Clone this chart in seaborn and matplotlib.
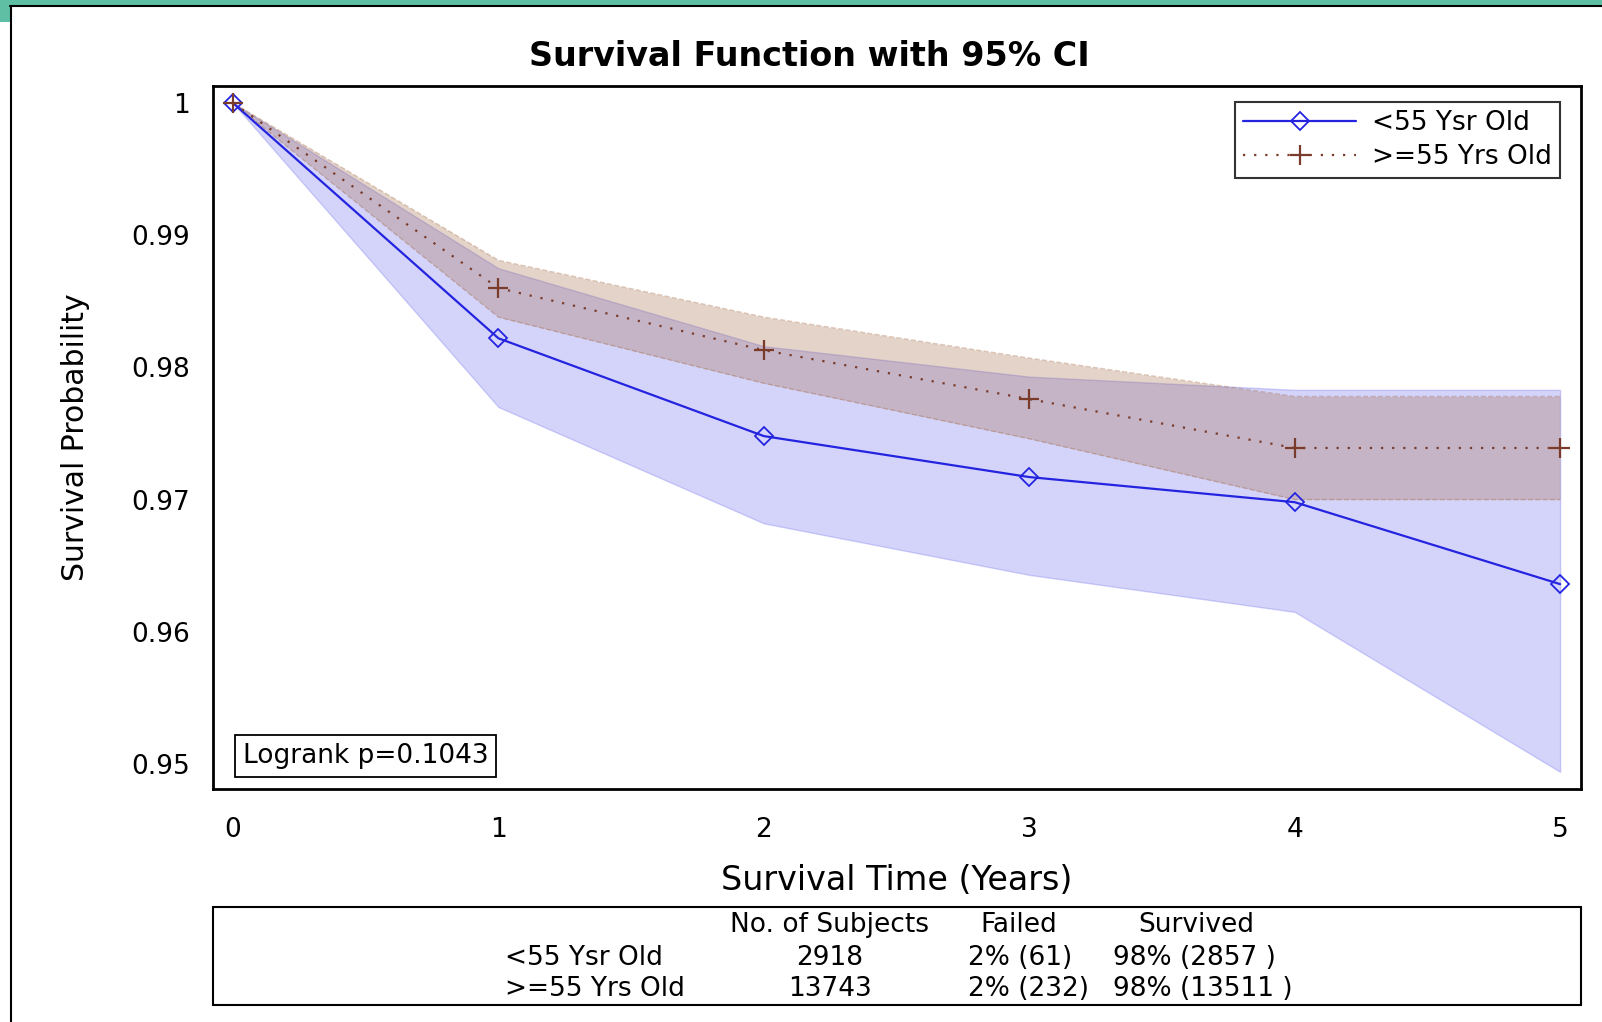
import matplotlib
matplotlib.use("Agg")
import matplotlib.pyplot as plt
import pandas as pd
import seaborn as sns
from matplotlib.patches import Rectangle
from matplotlib.lines import Line2D
from matplotlib.ticker import FuncFormatter

# Data
years = [0, 1, 2, 3, 4, 5]
groups = ["<55 Ysr Old", ">=55 Yrs Old"]

surv_young = [1.0, 0.9822, 0.9748, 0.9717, 0.9698, 0.9636]
upper_young = [1.0, 0.9875, 0.9816, 0.9793, 0.9783, 0.9783]
lower_young = [1.0, 0.9770, 0.9682, 0.9643, 0.9615, 0.9494]

surv_old = [1.0, 0.9860, 0.9813, 0.9776, 0.9739, 0.9739]
upper_old = [1.0, 0.9881, 0.9838, 0.9807, 0.9778, 0.9778]
lower_old = [1.0, 0.9838, 0.9788, 0.9746, 0.9700, 0.9700]

n_subjects = [2918, 13743]
n_failed = [61, 232]
n_survived = [2857, 13511]
logrank_p = 0.1043

y_ticks = [0.95, 0.96, 0.97, 0.98, 0.99, 1.0]

blue = "#2424e0"
blue_band = "#6666ee"
brown = "#7a3b2a"
brown_band = "#a0643c"

df = pd.DataFrame({
    "time": years * 2,
    "surv": surv_young + surv_old,
    "lower": lower_young + lower_old,
    "upper": upper_young + upper_old,
    "group": [groups[0]] * len(years) + [groups[1]] * len(years),
})

sns.set_theme(style="white")
plt.rcParams["font.family"] = ["DejaVu Sans"]
plt.rcParams.update({"text.color": "black", "axes.labelcolor": "black",
                     "xtick.color": "black", "ytick.color": "black"})

fs = 19

fig = plt.figure(figsize=(16.02, 10.22), dpi=100)
ax = fig.add_axes([0.1327, 0.228, 0.8539, 0.688])

# confidence bands
d0 = df[df.group == groups[0]]
d1 = df[df.group == groups[1]]
ax.fill_between(d0.time, d0.lower, d0.upper, color=blue_band, alpha=0.28,
                edgecolor=blue_band, linewidth=1.0, zorder=1)
ax.fill_between(d1.time, d1.lower, d1.upper, color=brown_band, alpha=0.28,
                linewidth=0, zorder=2)
ax.plot(d1.time, d1.upper, color=brown_band, alpha=0.35, lw=1.0, ls="--", zorder=2)
ax.plot(d1.time, d1.lower, color=brown_band, alpha=0.35, lw=1.0, ls="--", zorder=2)

# survival curves
sns.lineplot(data=d0, x="time", y="surv", ax=ax, color=blue, linewidth=1.6,
             marker="D", markersize=9, markerfacecolor="none",
             markeredgecolor=blue, markeredgewidth=1.3, zorder=4)
sns.lineplot(data=d1, x="time", y="surv", ax=ax, color=brown, linewidth=1.6,
             linestyle=(0, (1, 4)), marker="+", markersize=14,
             markeredgecolor=brown, markeredgewidth=1.6, zorder=5)

ax.set_xlim(-0.077, 5.077)
ax.set_ylim(0.9481, 1.0013)
ax.set_xticks(years)
ax.set_yticks(y_ticks)
ax.yaxis.set_major_formatter(FuncFormatter(lambda v, p: f"{v:g}"))
ax.tick_params(axis="both", direction="out", length=10, width=2,
               labelsize=fs, color="black", labelcolor="black", pad=6)
ax.tick_params(axis="x", pad=10)
for s in ax.spines.values():
    s.set_color("black")
    s.set_linewidth(2)

ax.set_xlabel("Survival Time (Years)", fontsize=24, color="black")
ax.xaxis.set_label_coords(0.5, -0.106)
ax.set_ylabel("Survival Probability", fontsize=21.5, color="black")
ax.yaxis.set_label_coords(-0.0896, 0.5)

handles = [
    Line2D([0], [0], color=blue, lw=1.6, marker="D", markersize=9,
           markerfacecolor="none", markeredgecolor=blue, markeredgewidth=1.3),
    Line2D([0], [0], color=brown, lw=1.6, ls=(0, (1, 4)), marker="+",
           markersize=14, markeredgewidth=1.6),
]
leg = ax.legend(handles, groups, loc="upper right", bbox_to_anchor=(0.985, 0.977),
                fontsize=fs, frameon=True, fancybox=False, handlelength=4.3,
                handletextpad=0.6, borderpad=0.3, labelspacing=0.3,
                borderaxespad=0)
leg.get_frame().set_edgecolor("black")
leg.get_frame().set_linewidth(1.5)

ax.text(0.0222, 0.0465, f"Logrank p={logrank_p}", transform=ax.transAxes,
        fontsize=fs, va="center", ha="left",
        bbox=dict(boxstyle="square,pad=0.3", facecolor="white",
                  edgecolor="black", linewidth=1.3))

fig.text(0.505, 0.945, "Survival Function with 95% CI", ha="center",
         va="center", fontsize=24, weight="bold", color="black")

# summary table under the plot
fig.patches.append(Rectangle((0.1327, 0.017), 0.8539, 0.096, transform=fig.transFigure,
                             facecolor="white", edgecolor="black", linewidth=1.5))
row_y = [0.063, 0.032]
fig.text(0.518, 0.095, "No. of Subjects", ha="center", va="center", fontsize=fs)
fig.text(0.636, 0.095, "Failed", ha="center", va="center", fontsize=fs)
fig.text(0.747, 0.095, "Survived", ha="center", va="center", fontsize=fs)
for g, n, f, s, yy in zip(groups, n_subjects, n_failed, n_survived, row_y):
    fig.text(0.315, yy, g, ha="left", va="center", fontsize=fs)
    fig.text(0.518, yy, str(n), ha="center", va="center", fontsize=fs)
    fig.text(0.604, yy, f"{round(100 * f / n)}% ({f})", ha="left", va="center", fontsize=fs)
    fig.text(0.695, yy, f"{round(100 * s / n)}% ({s} )", ha="left", va="center", fontsize=fs)

# window frame
fig.patches.append(Rectangle((0, 1 - 6 / 1022), 1, 6 / 1022, transform=fig.transFigure,
                             facecolor="#5fbfa5", edgecolor="none"))
fig.patches.append(Rectangle((0, 1 - 22 / 1022), 10 / 1602, 22 / 1022,
                             transform=fig.transFigure, facecolor="#5fbfa5",
                             edgecolor="none"))
fig.lines.append(Line2D([10 / 1602, 1], [1 - 6.5 / 1022] * 2, transform=fig.transFigure,
                        color="black", lw=1.5))
fig.lines.append(Line2D([11 / 1602] * 2, [0, 1 - 6.5 / 1022], transform=fig.transFigure,
                        color="black", lw=1.5))

fig.savefig("out.png", dpi=100)
